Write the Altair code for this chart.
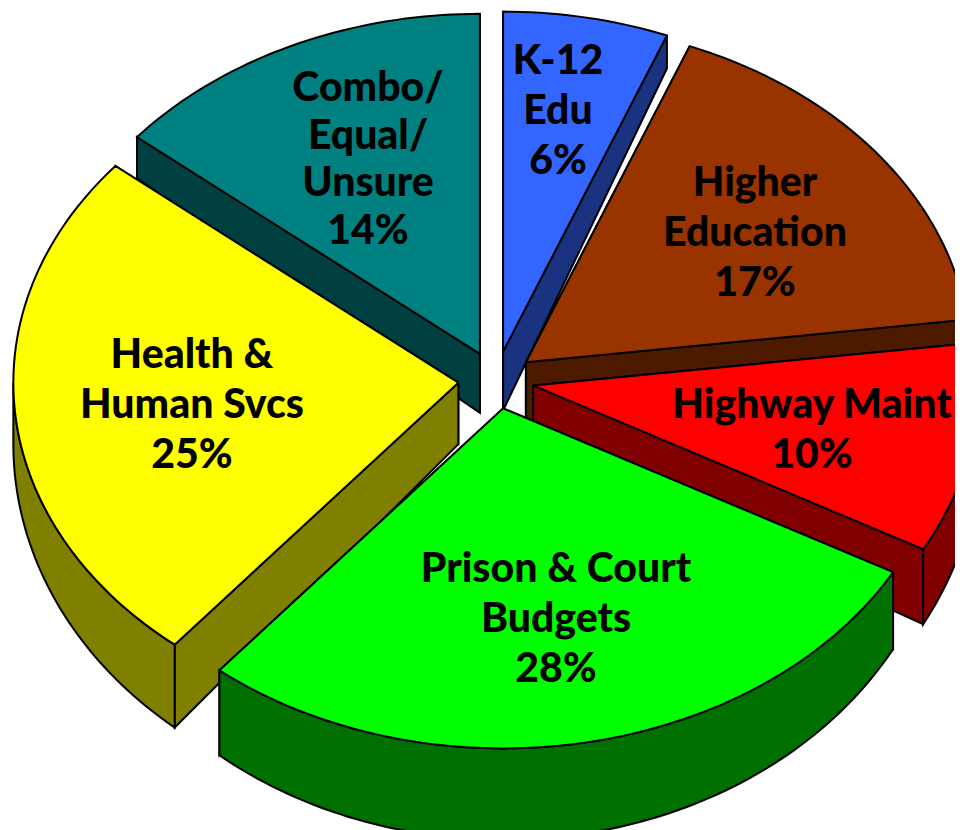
import math
import altair as alt
import pandas as pd

# ---- chart values
categories = ["K-12 Edu", "Higher Education", "Highway Maint", "Prison & Court Budgets", "Health & Human Svcs", "Combo/Equal/Unsure"]
shares = [6, 17, 10, 28, 25, 14]
top_colors = ["#3366FF", "#993300", "#FF0000", "#00FF00", "#FFFF00", "#008080"]
side_colors = ["#1A3380", "#4D1A00", "#800000", "#007000", "#808000", "#004040"]
label_lines = [
    ["K-12", "Edu", "6%"],
    ["Higher", "Education", "17%"],
    ["Highway Maint", "10%"],
    ["Prison & Court", "Budgets", "28%"],
    ["Health &", "Human Svcs", "25%"],
    ["Combo/", "Equal/", "Unsure", "14%"],
]

# ---- pie geometry (an exploded, tilted pie)
CX, CY, RX, RY, EXPLODE = 496.0, 380.0, 445.0, 340.0, 0.085
DRAW_ORDER = [5, 0, 1, 2, 4, 3]
W, H = 955, 830
LABEL_ANCHORS = [(558, 62), (755, 184), (812, 406), (556, 570), (192, 356), (368, 89)]
LINE_STEP = [50, 50, 50, 50, 50, 47.7]


def depth(y):
    return 30 + 0.082 * y


rows = []
poly_id = 0


def add_poly(points, color):
    global poly_id
    closed = points + [points[0]]
    for k, (x, y) in enumerate(closed):
        rows.append({"poly": poly_id, "k": k, "x": x, "y": y, "col": color})
    poly_id += 1


starts, acc = [], 0
for s in shares:
    starts.append(acc)
    acc += s

for i in DRAW_ORDER:
    t0 = starts[i] / 100 * 2 * math.pi
    t1 = (starts[i] + shares[i]) / 100 * 2 * math.pi
    tm = (t0 + t1) / 2
    ax = CX + RX * EXPLODE * math.sin(tm)
    ay = CY - RY * EXPLODE * math.cos(tm)
    n = max(8, shares[i] * 3)
    angles = [t0 + (t1 - t0) * j / n for j in range(n + 1)]
    point = lambda t: (ax + RX * math.sin(t), ay - RY * math.cos(t))
    arc = [point(t) for t in angles]
    down = lambda p: (p[0], p[1] + depth(p[1]))
    apex = (ax, ay)
    ends = sorted([arc[0], arc[-1]], key=lambda p: p[1])
    # cut faces, the outer wall on the near half of the rim, then the top
    add_poly([apex, ends[0], down(ends[0]), down(apex)], side_colors[i])
    add_poly([apex, ends[1], down(ends[1]), down(apex)], side_colors[i])
    near = [t for t in angles if math.pi / 2 <= t <= 3 * math.pi / 2]
    if t0 < math.pi / 2 < t1:
        near = [math.pi / 2] + near
    if t0 < 3 * math.pi / 2 < t1:
        near = near + [3 * math.pi / 2]
    if len(near) > 1:
        rim = [point(t) for t in near]
        add_poly(rim + [down(p) for p in reversed(rim)], side_colors[i])
    add_poly([apex] + arc, top_colors[i])

df = pd.DataFrame(rows)

text_rows = []
for i, lines in enumerate(label_lines):
    x0, y0 = LABEL_ANCHORS[i]
    for k, line in enumerate(lines):
        text_rows.append({"x": x0, "y": y0 + k * LINE_STEP[i], "t": line})
tf = pd.DataFrame(text_rows)

xs = alt.Scale(domain=[8, W], range=[0, W - 8], nice=False, zero=False)
ys = alt.Scale(domain=[8, H], range=[0, H - 8], nice=False, zero=False)

pie = alt.Chart(df).mark_line(
    stroke="black", strokeWidth=2, strokeJoin="miter", clip=True, interpolate="linear"
).encode(
    x=alt.X("x:Q", scale=xs, axis=None),
    y=alt.Y("y:Q", scale=ys, axis=None),
    fill=alt.Fill("col:N", scale=None),
    detail="poly:N",
    order="k:Q",
)

text = alt.Chart(tf).mark_text(
    font="Lato", fontWeight=900, fontSize=41, color="black", align="center", baseline="middle", clip=True
).encode(
    x=alt.X("x:Q", scale=xs, axis=None),
    y=alt.Y("y:Q", scale=ys, axis=None),
    text="t:N",
)

chart = (pie + text).properties(
    width=W - 8, height=H - 8, padding=0, autosize=alt.AutoSizeParams(type="none"),
    background="white",
).configure_view(stroke=None)

chart.save("out.html", embed_options={"renderer": "svg", "actions": False})
